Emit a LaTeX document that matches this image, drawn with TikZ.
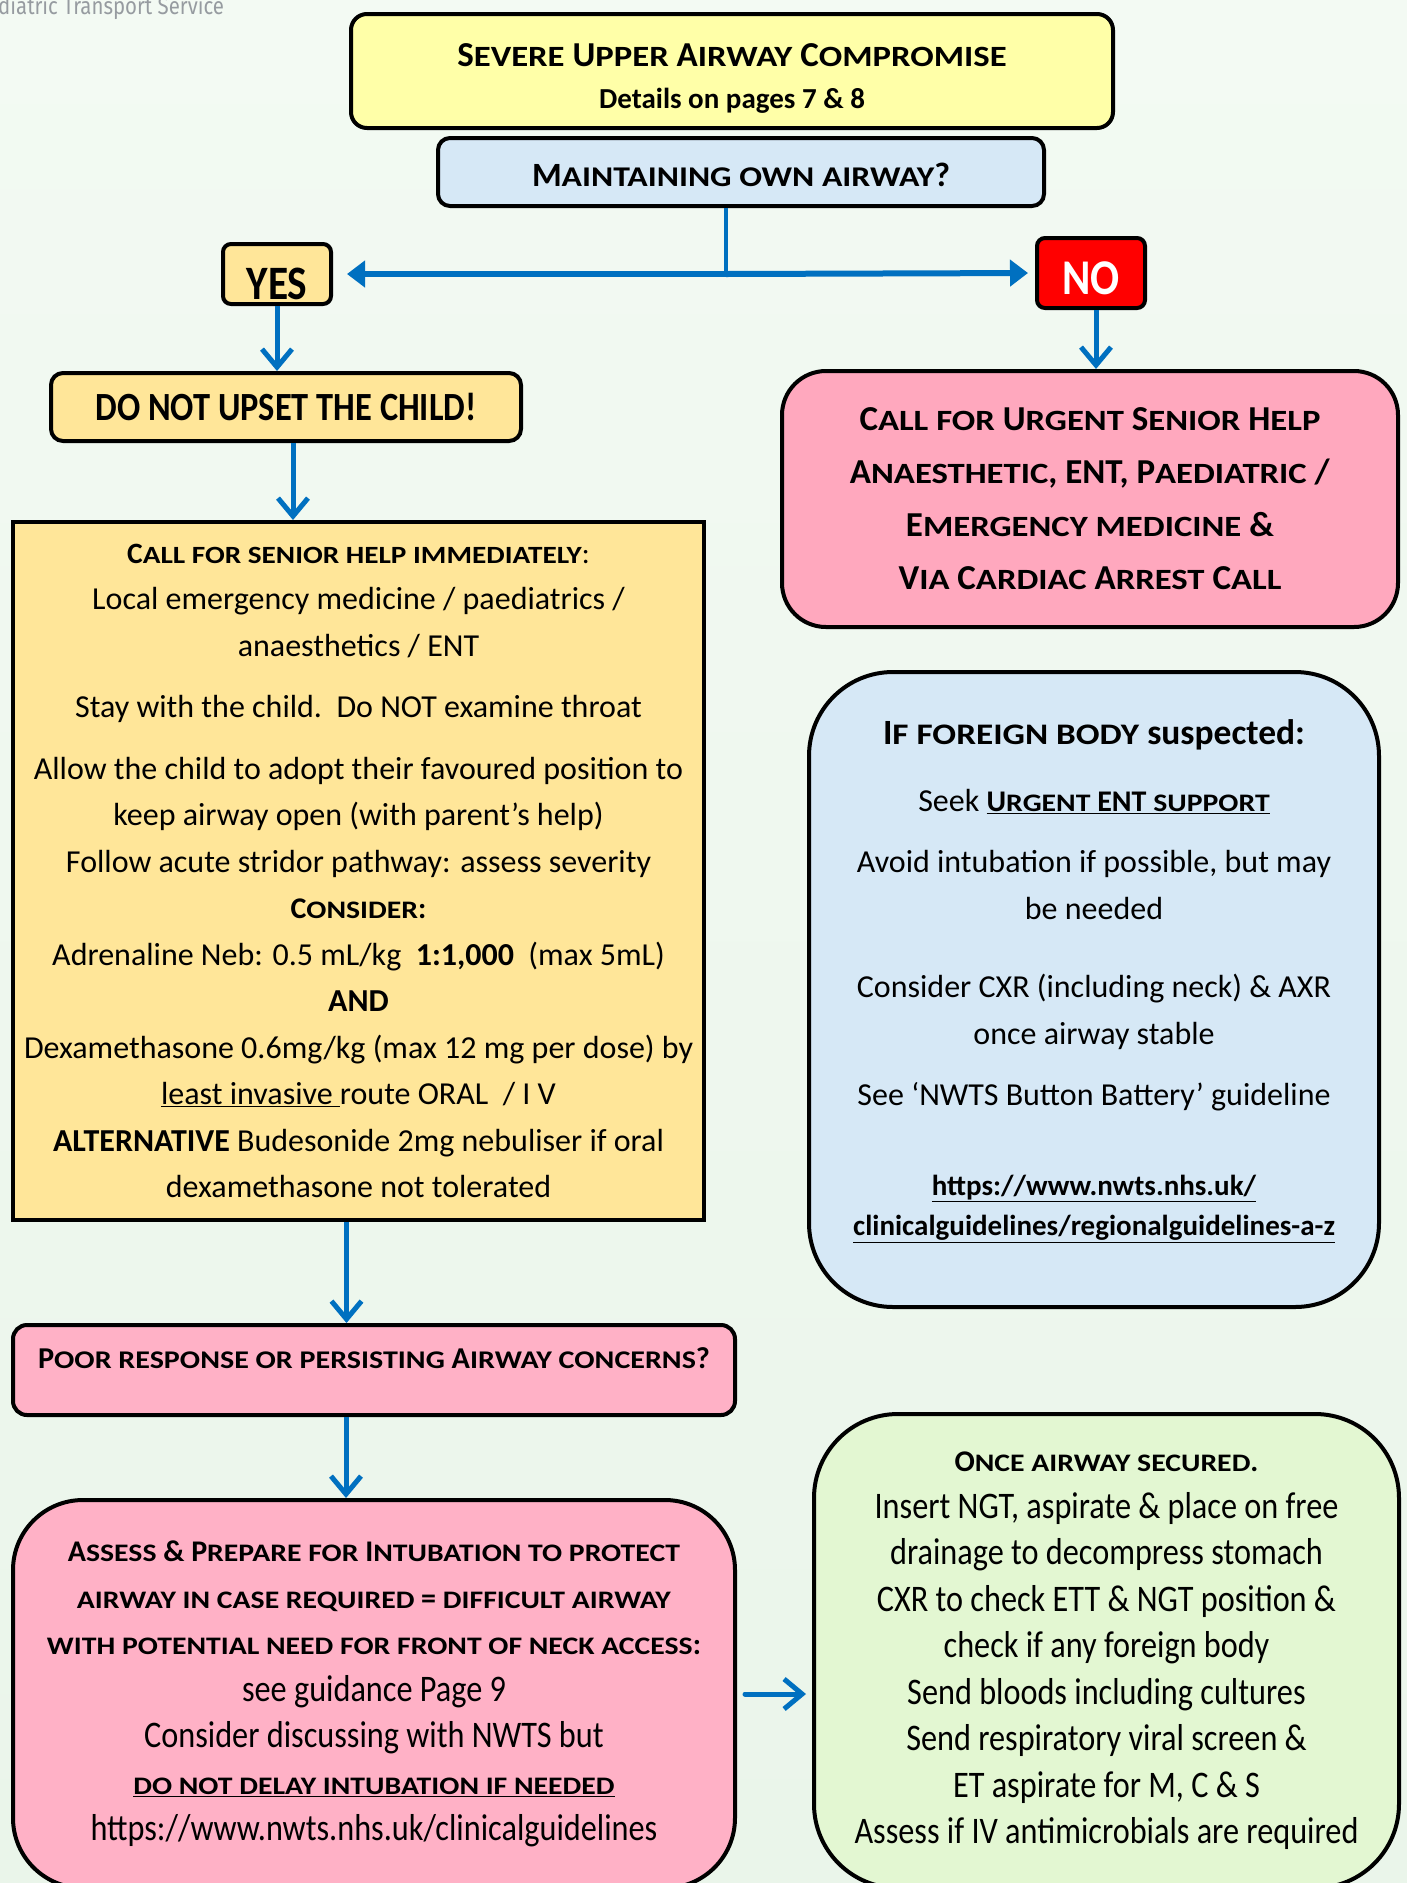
\documentclass[tikz,border=0pt]{standalone}
\usepackage{fontspec}
\setmainfont{Carlito}
\newfontfamily\narrowfont[FakeStretch=0.86]{Carlito}
\newfontfamily\smfont[FakeStretch=1.18]{Carlito}
\newfontfamily\logofont[FakeStretch=0.85]{Fira Sans}
\usetikzlibrary{arrows.meta,positioning}

% small capitals by hand (Carlito has none)
\makeatletter
\newcommand{\sm}[1]{{\smfont\fontsize{\fpeval{0.84*\f@size}}{\f@baselineskip}\selectfont #1}}
\makeatother

\definecolor{pagetop}{RGB}{243,250,243}
\definecolor{pagebottom}{RGB}{234,245,234}
\definecolor{titleyellow}{RGB}{255,255,168}
\definecolor{askblue}{RGB}{214,232,246}
\definecolor{yesorange}{RGB}{255,230,153}
\definecolor{callpink}{RGB}{255,168,190}
\definecolor{softpink}{RGB}{255,177,198}
\definecolor{securegreen}{RGB}{227,247,210}
\definecolor{flowblue}{RGB}{0,112,192}
\definecolor{logogrey}{RGB}{150,155,160}

\tikzset{
	flow/.style={
		draw=flowblue,
		line width=5pt,
		-{Straight Barb[length=18pt,width=30pt]}
	},
	branch/.style={
		draw=flowblue,
		line width=6pt,
		-{Triangle[length=18pt,width=26pt]}
	},
	stem/.style={
		draw=flowblue,
		line width=4pt
	}
}

\begin{document}
\begin{tikzpicture}[
					x=1pt,y=-1pt,
					component/.style={
						rectangle,
						rounded corners=12pt,
						draw=black, line width=4pt,
						inner sep=0pt,
						align=center
					},
					body/.style={font=\fontsize{32}{46.5}\selectfont},
					narrowbody/.style={font=\narrowfont\fontsize{37.5}{46.5}\selectfont}]

					%%% Page
					\useasboundingbox (0,0) rectangle (1407,1883);
					\clip (0,0) rectangle (1407,1883);
					\fill[top color=pagetop,bottom color=pagebottom] (0,0) rectangle (1407,1883);
					\node[anchor=base west,inner sep=0pt,text=logogrey,font=\logofont\fontsize{24}{26}\selectfont] (service) at (-2,14) {diatric Transport Service};

					%%% Nodes
					%% Top
					\node at (732,71) [component,fill=titleyellow,rounded corners=16pt,minimum width=762pt,minimum height=114pt,
						font=\fontsize{35}{42}\selectfont] (title)
						{\rule{0pt}{38pt}\textbf{S\sm{EVERE} U\sm{PPER} A\sm{IRWAY} C\sm{OMPROMISE}}\\
						{\fontsize{29}{42}\selectfont\textbf{Details on pages 7 \& 8}}};
					\node at (741,172) [component,fill=askblue,minimum width=606pt,minimum height=68pt,
						font=\fontsize{34}{40}\selectfont] (maintain)
						{\rule{0pt}{30pt}\textbf{M\sm{AINTAINING OWN AIRWAY}?}};
					\node at (277,274) [component,fill=yesorange,rounded corners=8pt,minimum width=108pt,minimum height=60pt,
						font=\narrowfont\fontsize{48}{48}\selectfont] (yes) {\rule{0pt}{51pt}\textbf{YES}};
					\node at (1091,273) [component,fill=red,rounded corners=8pt,minimum width=108pt,minimum height=70pt,
						text=white,font=\narrowfont\fontsize{50}{50}\selectfont] (no) {\rule{0pt}{44pt}\textbf{NO}};

					%% Left hand side
					\node at (286,407) [component,fill=yesorange,minimum width=470pt,minimum height=68pt,
						font=\narrowfont\fontsize{40}{44}\selectfont] (upset) {\textbf{DO NOT UPSET THE CHILD!}};
					\node at (358.5,871) [component,fill=yesorange,rounded corners=0pt,minimum width=691pt,minimum height=698pt,
						body] (advice)
						{{\fontsize{29.5}{46.5}\selectfont\textbf{C\sm{ALL FOR SENIOR HELP IMMEDIATELY}}:}\\
						Local emergency medicine / paediatrics /\\
						anaesthetics / ENT\\[15pt]
						Stay with the child.\ \ Do NOT examine throat\\[15pt]
						Allow the child to adopt their favoured position to\\
						keep airway open (with parent’s help)\\
						Follow acute stridor pathway: assess severity\\
						{\fontsize{30}{46.5}\selectfont\textbf{C\sm{ONSIDER}:}}\\
						Adrenaline Neb: 0.5 mL/kg\ \ \textbf{1:1,000}\ \ (max 5mL)\\
						\textbf{AND}\\
						Dexamethasone 0.6mg/kg (max 12 mg per dose) by\\
						\underline{least invasive }route ORAL\ \ / I V\\
						\textbf{ALTERNATIVE} Budesonide 2mg nebuliser if oral\\
						dexamethasone not tolerated};
					\node at (374,1370) [component,fill=softpink,rounded corners=14pt,minimum width=722pt,minimum height=90pt,
						font=\fontsize{30.3}{40}\selectfont] (poor)
						{\textbf{P\sm{OOR RESPONSE OR PERSISTING} A\sm{IRWAY CONCERNS}?}\\[-28pt]\strut};
					\node at (374,1694) [component,fill=softpink,rounded corners=70pt,minimum width=722pt,minimum height=388pt,
						narrowbody] (assess)
						{{\rmfamily\fontsize{30}{46.5}\selectfont\textbf{A\sm{SSESS} \& P\sm{REPARE FOR} I\sm{NTUBATION TO PROTECT}}}\\
						{\rmfamily\fontsize{30}{46.5}\selectfont\textbf{\sm{AIRWAY IN CASE REQUIRED} = \sm{DIFFICULT AIRWAY}}}\\
						{\rmfamily\fontsize{30}{46.5}\selectfont\textbf{\sm{WITH POTENTIAL NEED FOR FRONT OF NECK ACCESS}:}}\\
						see guidance Page 9\\
						Consider discussing with NWTS but\\
						{\rmfamily\fontsize{30}{46.5}\selectfont\underline{\textbf{\sm{DO NOT DELAY INTUBATION IF NEEDED}}}}\\
						https://www.nwts.nhs.uk/clinicalguidelines};

					%% Right hand side
					\node at (1090,499) [component,fill=callpink,rounded corners=44pt,minimum width=616pt,minimum height=256pt,
						font=\fontsize{35}{53}\selectfont] (call)
						{\textbf{C\sm{ALL FOR} U\sm{RGENT} S\sm{ENIOR} H\sm{ELP}}\\
						\textbf{A\sm{NAESTHETIC}, ENT, P\sm{AEDIATRIC} /}\\
						\textbf{E\sm{MERGENCY MEDICINE} \&}\\
						\textbf{V\sm{IA} C\sm{ARDIAC} A\sm{RREST} C\sm{ALL}}};
					\node at (1094,989.5) [component,fill=askblue,rounded corners=84pt,minimum width=570pt,minimum height=635pt,
						body] (foreign)
						{{\fontsize{35.5}{46}\selectfont\textbf{I\sm{F FOREIGN BODY} suspected:}}\\[20pt]
						Seek {\fontsize{30}{46}\selectfont\underline{\textbf{U\sm{RGENT} ENT \sm{SUPPORT}}}}\\[15pt]
						Avoid intubation if possible, but may\\
						be needed\\[32pt]
						Consider CXR (including neck) \& AXR\\
						once airway stable\\[15pt]
						See ‘NWTS Button Battery’ guideline\\[43pt]
						{\fontsize{29}{46}\selectfont\textbf{\underline{https://www.nwts.nhs.uk/}}}\\[-6pt]
						{\fontsize{29}{46}\selectfont\textbf{\underline{clinicalguidelines/regionalguidelines-a-z}}}\\[-23pt]
						\mbox{}};
					\node at (1106.5,1651) [component,fill=securegreen,rounded corners=84pt,minimum width=585pt,minimum height=474pt,
						narrowbody] (secured)
						{{\rmfamily\fontsize{30}{46.5}\selectfont\textbf{O\sm{NCE AIRWAY SECURED}.}}\\
						Insert NGT, aspirate \& place on free\\
						drainage to decompress stomach\\
						CXR to check ETT \& NGT position \&\\
						check if any foreign body\\
						Send bloods including cultures\\
						Send respiratory viral screen \&\\
						ET aspirate for M, C \& S\\
						Assess if IV antimicrobials are required};

					%%% Connections
					%% Decision split
					\coordinate (split) at (726,274);
					\draw[stem] ([xshift=-15pt]maintain.south) -- (split);
					\draw[branch,shorten >=14pt] (split) -- (yes.east);
					\draw[branch,shorten >=7pt] (split) -- (no.west);

					%% Left hand flow
					\draw[flow] (yes.south) -- (yes.south |- upset.north);
					\draw[flow] ([xshift=7pt]upset.south) -- ([xshift=7pt]upset.south |- advice.north);
					\draw[flow] ([xshift=-12pt]advice.south) -- ([xshift=-12pt]advice.south |- poor.north);
					\draw[flow] ([xshift=-28pt]poor.south) -- ([xshift=-28pt]poor.south |- assess.north);
					\draw[flow,line cap=round,shorten <=8pt,shorten >=6pt] (assess.east) -- (secured.west |- assess.east);

					%% Right hand flow
					\draw[flow] ([xshift=5pt]no.south) -- ([xshift=5pt]no.south |- call.north);
				\end{tikzpicture}
\end{document}
